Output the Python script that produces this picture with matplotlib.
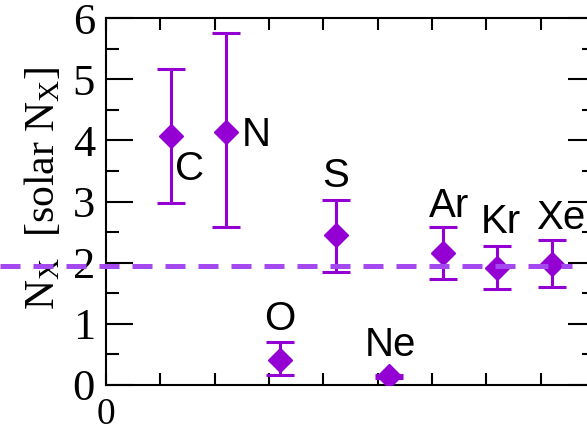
import matplotlib
matplotlib.use('Agg')
import matplotlib.pyplot as plt

# abundances relative to solar
elements = ['C', 'N', 'O', 'S', 'Ne', 'Ar', 'Kr', 'Xe']
xpos = [1.2, 2.2, 3.2, 4.23, 5.2, 6.2, 7.2, 8.2]
vals = [4.07, 4.14, 0.41, 2.45, 0.14, 2.15, 1.92, 1.98]
err_hi = [5.16, 5.76, 0.71, 3.02, 0.16, 2.58, 2.28, 2.37]
err_lo = [2.98, 2.58, 0.16, 1.85, 0.12, 1.73, 1.57, 1.60]

# where the element names sit
lab_x = [1.27, 2.5, 3.2, 4.22, 5.23, 6.31, 7.26, 8.36]
lab_y = [3.53, 4.08, 1.08, 3.42, 0.65, 2.92, 2.66, 2.73]
lab_ha = ['left', 'left', 'center', 'center', 'center', 'center', 'center', 'center']

solar_level = 1.95
solar_x = [-1.95, 8.58]

plt.rcParams['mathtext.fontset'] = 'custom'
plt.rcParams['mathtext.rm'] = 'Liberation Serif'
plt.rcParams['mathtext.it'] = 'Liberation Serif'

fig = plt.figure(figsize=(5.87, 4.25), dpi=100)
ax = fig.add_axes([106/587, 40/425, 489/587, 367/425])

col = '#9400d3'
yerr = [[v - l for v, l in zip(vals, err_lo)], [h - v for v, h in zip(vals, err_hi)]]
ax.errorbar(xpos, vals, yerr=yerr, fmt='D', color=col, ms=12.5, elinewidth=2.2,
            capsize=10, capthick=2.2, zorder=3)

ax.plot(solar_x, [solar_level, solar_level], color='#a448f0', lw=3.6,
        dashes=(4.0, 2.6), clip_on=False, zorder=4)

for n, x, y, ha in zip(elements, lab_x, lab_y, lab_ha):
    ax.text(x, y, n, ha=ha, va='center', fontsize=29, family='Liberation Sans')

ax.set_xlim(0, 9)
ax.set_ylim(0, 6)
ax.set_xticks(range(10))
ax.set_xticklabels(['0'] + [''] * 9)
ax.set_yticks(range(7))
ax.set_yticks([0.5, 1.5, 2.5, 3.5, 4.5, 5.5], minor=True)

for lab in ax.get_xticklabels() + ax.get_yticklabels():
    lab.set_family('Liberation Serif')
ax.tick_params(axis='y', which='major', direction='in', length=19.5, width=1.5,
               labelsize=32, pad=8, left=True, right=True)
ax.tick_params(axis='y', which='minor', direction='in', length=9.5, width=1.5,
               left=True, right=True)
ax.tick_params(axis='x', which='major', direction='in', length=8.6, width=1.5,
               labelsize=27, pad=9, top=True, bottom=True)
for s in ax.spines.values():
    s.set_linewidth(1.5)

ax.set_ylabel(r'$\mathrm{N_X}$  [solar $\mathrm{N_X}$]', fontsize=30,
              family='Liberation Serif')
ax.yaxis.set_label_coords(-0.088, 0.535)

fig.savefig('out.png', dpi=100)
